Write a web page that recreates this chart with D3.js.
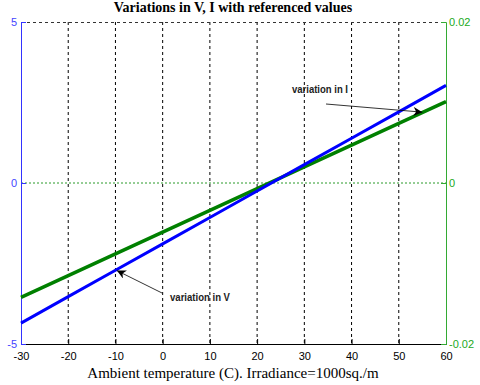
<!DOCTYPE html>
<html>
<head>
<meta charset="utf-8">
<script src="https://cdn.jsdelivr.net/npm/d3@7"></script>
<style>
  body { margin: 0; background: #fff; }
  svg { display: block; }
  .tick text { font-family: Arial, "Liberation Sans", sans-serif; font-size: 11px; }
  .note { font-family: "Liberation Sans", Arial, sans-serif; font-size: 11px; font-weight: bold; fill: #222; }
</style>
</head>
<body>
<div id="main"></div>
<script>
// temperature (C)
const temps = [-30, -20, -10, 0, 10, 20, 30, 40, 50, 60];
// variation in V (left axis)
const dV = [-4.35, -3.53, -2.71, -1.89, -1.07, -0.25, 0.57, 1.39, 2.21, 3.03];
// variation in I (right axis)
const dI = [-0.0142, -0.0115, -0.0088, -0.0061, -0.0034, -0.0007, 0.0020, 0.0047, 0.0074, 0.0101];

const xTicks = [-30, -20, -10, 0, 10, 20, 30, 40, 50, 60];
const leftTicks = [-5, 0, 5];
const rightTicks = [-0.02, 0, 0.02];
const rightLabels = ['-0.02', '0', '0.02'];

const W = 480, H = 385;
const m = {top: 22, right: 34, bottom: 41, left: 21};

const svg = d3.select('#main').append('svg')
    .attr('width', W).attr('height', H);

const x = d3.scaleLinear().domain([-30, 60]).range([m.left, W - m.right]);
const yL = d3.scaleLinear().domain([-5, 5]).range([H - m.bottom, m.top]);
const yR = d3.scaleLinear().domain([-0.02, 0.02]).range([H - m.bottom, m.top]);

const hyphen = d => String(d).replace('\u2212', '-');

// vertical grid
svg.append('g')
    .selectAll('line')
    .data(xTicks.slice(1, -1))
    .join('line')
    .attr('x1', d => x(d)).attr('x2', d => x(d))
    .attr('y1', m.top).attr('y2', H - m.bottom)
    .attr('stroke', '#000').attr('stroke-width', 1)
    .attr('stroke-dasharray', '3,3');

// top border (dashed)
svg.append('line')
    .attr('x1', m.left).attr('x2', W - m.right)
    .attr('y1', m.top + 0.5).attr('y2', m.top + 0.5)
    .attr('stroke', '#333').attr('stroke-dasharray', '3,3');

// zero line (green dotted)
svg.append('line')
    .attr('x1', m.left).attr('x2', W - m.right)
    .attr('y1', yR(0)).attr('y2', yR(0))
    .attr('stroke', '#2a9a2a').attr('stroke-dasharray', '2,2');

// bottom axis
const xAxis = svg.append('g')
    .attr('transform', `translate(0,${H - m.bottom})`)
    .call(d3.axisBottom(x).tickValues(xTicks).tickSize(-5).tickPadding(6)
        .tickFormat(d => hyphen(d)));
xAxis.select('.domain').attr('stroke', '#000');
xAxis.selectAll('.tick text').attr('fill', '#000').attr('dy', '0.95em');

// left axis
const lAxis = svg.append('g')
    .attr('transform', `translate(${m.left},0)`)
    .call(d3.axisLeft(yL).tickValues(leftTicks).tickSize(-5).tickPadding(4)
        .tickFormat(d => hyphen(d)));
lAxis.select('.domain').attr('stroke', '#3333ff');
lAxis.selectAll('.tick line').attr('stroke', '#3333ff');
lAxis.selectAll('.tick text').attr('fill', '#4444ff');

// right axis
const rAxis = svg.append('g')
    .attr('transform', `translate(${W - m.right},0)`)
    .call(d3.axisRight(yR).tickValues(rightTicks).tickSize(-5).tickPadding(3)
        .tickFormat((d, i) => rightLabels[i]));
rAxis.select('.domain').attr('stroke', '#33aa33');
rAxis.selectAll('.tick line').attr('stroke', '#33aa33');
rAxis.selectAll('.tick text').attr('fill', '#22aa22');

// series lines
const lineV = d3.line().x((d, i) => x(temps[i])).y(d => yL(d));
const lineI = d3.line().x((d, i) => x(temps[i])).y(d => yR(d));

svg.append('path').datum(dI)
    .attr('d', lineI).attr('fill', 'none')
    .attr('stroke', '#008000').attr('stroke-width', 3.5);
svg.append('path').datum(dV)
    .attr('d', lineV).attr('fill', 'none')
    .attr('stroke', '#0000ff').attr('stroke-width', 3);

// arrows
const defs = svg.append('defs');
defs.append('marker')
    .attr('id', 'arr').attr('viewBox', '0 0 10 10')
    .attr('refX', 10).attr('refY', 5)
    .attr('markerWidth', 12).attr('markerHeight', 9)
    .attr('markerUnits', 'userSpaceOnUse')
    .attr('orient', 'auto')
    .append('path').attr('d', 'M0,0 L10,5 L0,10 L3,5 Z').attr('fill', '#000');

svg.append('line')
    .attr('x1', 326).attr('y1', 104).attr('x2', x(55)).attr('y2', yR(0.0088))
    .attr('stroke', '#000').attr('stroke-width', 0.8).attr('marker-end', 'url(#arr)');
svg.append('text').attr('class', 'note')
    .attr('x', 292).attr('y', 93)
    .attr('textLength', 56).attr('lengthAdjust', 'spacingAndGlyphs')
    .text('variation in I');

svg.append('line')
    .attr('x1', 162).attr('y1', 293).attr('x2', x(-9.7)).attr('y2', yL(-2.72))
    .attr('stroke', '#000').attr('stroke-width', 0.8).attr('marker-end', 'url(#arr)');
svg.append('text').attr('class', 'note')
    .attr('x', 170).attr('y', 301)
    .attr('textLength', 60).attr('lengthAdjust', 'spacingAndGlyphs')
    .text('variation in V');

// title and x label
svg.append('text')
    .attr('x', 233).attr('y', 12)
    .attr('text-anchor', 'middle')
    .style('font-family', '"Liberation Serif", "Times New Roman", serif')
    .style('font-size', '14px').style('font-weight', 'bold')
    .text('Variations in V, I with referenced values');

svg.append('text')
    .attr('x', 233).attr('y', 378)
    .attr('text-anchor', 'middle')
    .style('font-family', '"Liberation Serif", "Times New Roman", serif')
    .style('font-size', '15px')
    .text('Ambient temperature (C). Irradiance=1000sq./m');
</script>
</body>
</html>
